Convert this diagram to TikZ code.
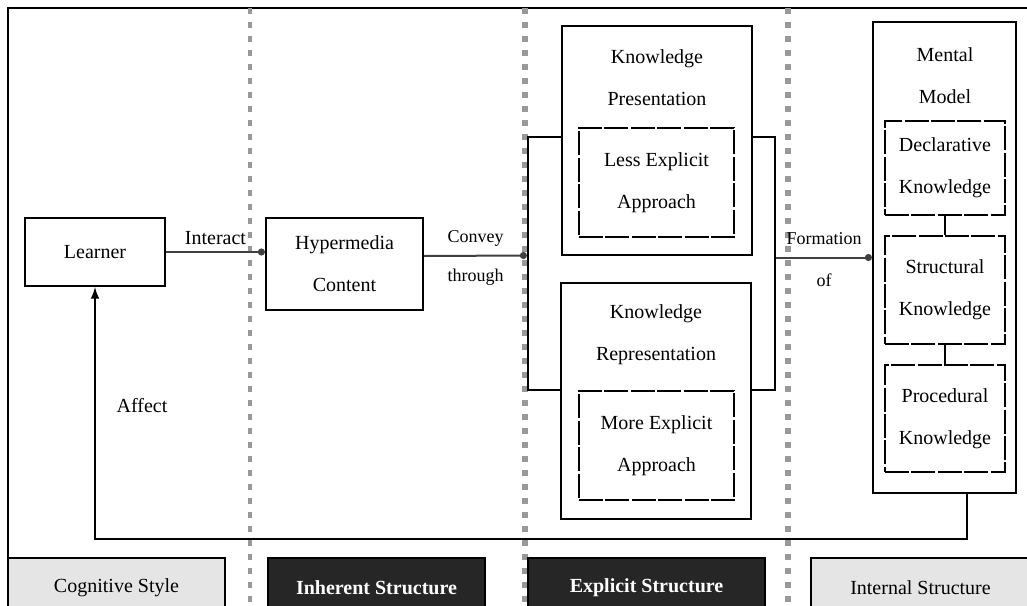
\documentclass[tikz,border=0pt]{standalone}
\usepackage{fontspec}
\setmainfont{Liberation Serif}
\usetikzlibrary{arrows.meta,positioning}

\begin{document}
\begin{tikzpicture}[x=0.5pt,y=-0.5pt,
            every node/.style={font=\fontsize{10}{21}\selectfont,align=center},
            box/.style={draw,line width=1.1pt,fill=white,inner sep=0pt},
            dbox/.style={box,dash pattern=on 12pt off 1.2pt},
            flow/.style={draw=black!75,line width=1pt,-{Circle[length=3.5pt]}},
            small/.style={font=\fontsize{9}{11}\selectfont},
            sep/.style={draw=black!40,line width=3pt,dash pattern=on 3pt off 4pt},
            tag/.style={draw,line width=1pt,minimum height=30pt,inner sep=0pt,
                font=\fontsize{10}{12}\selectfont},
            darktag/.style={tag,fill=black!85,text=white,
                font=\fontsize{10}{12}\selectfont\bfseries},
            lighttag/.style={tag,fill=black!10}]
            \useasboundingbox (0,0) rectangle (1027,605);

            \draw[line width=1pt] (8,630) -- (8,8) -- (1045,8);
            \draw[sep,line width=2.2pt] (250,8) -- (250,605);
            \draw[sep] (525,8) -- (525,605);
            \draw[sep] (788,8) -- (788,605);

            \node[box,minimum width=70pt,minimum height=34pt] (learner) at (95,252) {Learner};
            \node[box,minimum width=78.5pt,minimum height=46pt] (hyper) at (344.5,264) {Hypermedia\\Content};

            \node[draw,line width=1.1pt,minimum width=123.5pt,minimum height=126.5pt] (explicit) at (651.5,263.5) {};
            \node[box,minimum width=95pt,minimum height=114.5pt] (present) at (657,140.5) {};
            \node (presenttxt) at (657,78) {Knowledge\\Presentation};
            \node[dbox,minimum width=77.5pt,minimum height=54.5pt] (less) at (656.5,182.5) {Less Explicit\\Approach};
            \node[box,minimum width=95pt,minimum height=118pt] (repres) at (656,401) {};
            \node (represtxt) at (656,334.5) {Knowledge\\Representation};
            \node[dbox,minimum width=77.5pt,minimum height=54.5pt] (more) at (656.5,445.5) {More Explicit\\Approach};

            \node[box,minimum width=71.5pt,minimum height=235.5pt] (mental) at (944.5,257.5) {};
            \node (mentaltxt) at (945,76) {Mental\\Model};
            \node[dbox,minimum width=60pt,minimum height=47pt] (decl) at (945,168) {Declarative\\Knowledge};
            \node[dbox,minimum width=60pt,minimum height=54pt] (struct) at (945,290) {Structural\\Knowledge};
            \node[dbox,minimum width=60pt,minimum height=53.5pt] (proc) at (945,418.5) {Procedural\\Knowledge};
            \draw[line width=1pt] (decl.south) -- (struct.north);
            \draw[line width=1pt] (struct.south) -- (proc.north);

            \draw[flow] (learner.east) -- node[above] (interact) {Interact} (learner.east -| hyper.west);
            \draw[flow] ([yshift=4pt]hyper.east) -- node[above=1pt,small] (convey) {Convey}
                node[below=3pt,small] (through) {through} ([yshift=4pt]explicit.west);
            \draw[flow] ([yshift=3pt]explicit.east) -- node[above=2.5pt,small] (formation) {Formation}
                node[below=4.5pt,small] (of) {of} (mental.west);

            \coordinate (turn) at (967,539);
            \draw[line width=1pt,-latex] (mental.south -| turn) -- (turn) -| node[pos=0.765,right=7pt] (affect) {Affect} (learner.south);

            \node[lighttag,minimum width=108.5pt] (cognitive) at (116.5,588) {Cognitive Style};
            \node[darktag,minimum width=108.5pt] (inherent) at (376.5,588) {Inherent Structure};
            \node[darktag,minimum width=118.5pt] (explicitstr) at (646.5,588) {Explicit Structure};
            \node[lighttag,minimum width=109.5pt] (internal) at (920.5,588) {Internal Structure};
        \end{tikzpicture}
\end{document}
